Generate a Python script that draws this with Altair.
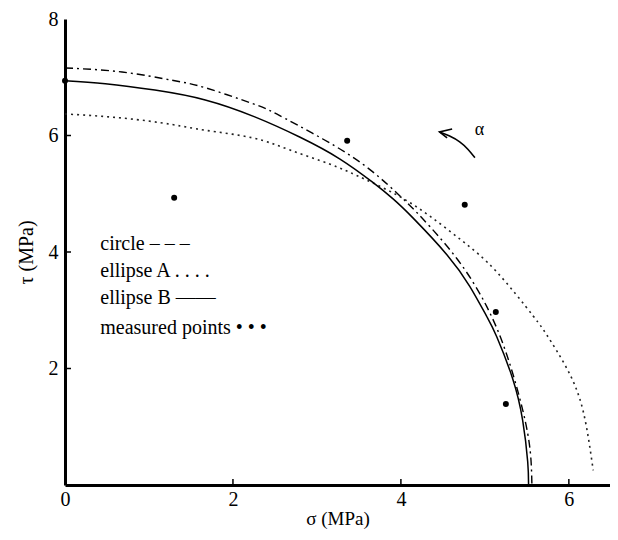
import altair as alt
import pandas as pd

# ---- data ----
circle_x = [0.00, 0.68, 1.27, 1.67, 2.23, 2.52, 3.07, 3.60, 4.02, 4.26, 4.67, 5.02, 5.26, 5.45, 5.54, 5.56]
circle_y = [7.16, 7.09, 6.95, 6.82, 6.55, 6.37, 5.94, 5.45, 4.92, 4.57, 3.88, 3.07, 2.24, 1.29, 0.58, 0.00]

ellA_x = [0.00, 0.68, 1.27, 1.67, 2.23, 2.68, 3.15, 3.48, 3.95, 4.35, 4.74, 5.14, 5.57, 5.74, 5.98, 6.17, 6.29]
ellA_y = [6.37, 6.30, 6.19, 6.09, 5.96, 5.75, 5.51, 5.31, 4.98, 4.61, 4.18, 3.66, 2.91, 2.57, 1.99, 1.27, 0.25]

ellB_x = [0.00, 0.48, 1.07, 1.67, 2.26, 2.80, 3.27, 3.67, 3.90, 4.14, 4.55, 4.82, 5.02, 5.14, 5.33, 5.45, 5.51, 5.52]
ellB_y = [6.94, 6.89, 6.78, 6.61, 6.32, 5.97, 5.60, 5.19, 4.92, 4.59, 3.95, 3.41, 2.90, 2.55, 1.83, 1.11, 0.40, 0.00]

meas_x = [0.00, 1.30, 3.36, 4.76, 5.13, 5.25]
meas_y = [6.94, 4.93, 5.91, 4.81, 2.97, 1.39]

x_ticks = [0, 2, 4, 6]
y_ticks = [2, 4, 6, 8]
x_inner_ticks = [2, 4, 6]
y_inner_ticks = [2, 4, 6]

legend_labels = ["circle – – –", "ellipse A . . . .", "ellipse B ——", "measured points • • •"]
legend_x = [0.42, 0.42, 0.42, 0.42]
legend_y = [4.13, 3.68, 3.21, 2.69]

arrow_x = [4.88, 4.80, 4.70, 4.58, 4.46]
arrow_y = [5.62, 5.76, 5.89, 5.99, 6.06]
barb_x = [4.61, 4.46, 4.55]
barb_y = [6.11, 6.06, 5.96]
alpha_label = ["α"]
alpha_x = [4.88]
alpha_y = [6.09]

W, H = 545, 466
FONT = "Liberation Serif"

xs = alt.Scale(domain=[0, 6.49], nice=False, zero=False)
ys = alt.Scale(domain=[0, 8], nice=False, zero=False)

def curve_df(xv, yv):
    return pd.DataFrame({"x": xv, "y": yv, "o": list(range(len(xv)))})

xenc = alt.X("x:Q", scale=xs, axis=alt.Axis(values=x_ticks, title="σ (MPa)", ticks=False, format="d",
                                            labelFlush=False, labelPadding=4, titlePadding=0,
                                            titleFontSize=19))
yenc = alt.Y("y:Q", scale=ys, axis=alt.Axis(values=y_ticks, title="τ (MPa)", ticks=False, format="d",
                                            labelFlush=False, labelPadding=7, titlePadding=12))

circle = alt.Chart(curve_df(circle_x, circle_y)).mark_line(
    color="black", strokeWidth=1.4, strokeDash=[8, 4, 2, 4], interpolate="natural"
).encode(x=xenc, y=yenc, order="o:Q")

ellA = alt.Chart(curve_df(ellA_x, ellA_y)).mark_line(
    color="#222", strokeWidth=1.6, strokeDash=[2, 4], interpolate="natural"
).encode(x="x:Q", y="y:Q", order="o:Q")

ellB = alt.Chart(curve_df(ellB_x, ellB_y)).mark_line(
    color="black", strokeWidth=1.5, interpolate="natural"
).encode(x="x:Q", y="y:Q", order="o:Q")

pts = alt.Chart(pd.DataFrame({"x": meas_x, "y": meas_y})).mark_point(
    filled=True, color="black", size=36, opacity=1
).encode(x="x:Q", y="y:Q")

xt = alt.Chart(pd.DataFrame({"x": x_inner_ticks})).mark_rule(color="black", strokeWidth=1.5).encode(
    x="x:Q", y=alt.value(H), y2=alt.value(H - 6))
yt = alt.Chart(pd.DataFrame({"y": y_inner_ticks})).mark_rule(color="black", strokeWidth=1.5).encode(
    y="y:Q", x=alt.value(0), x2=alt.value(6))

legend = alt.Chart(pd.DataFrame({"x": legend_x, "y": legend_y, "t": legend_labels})).mark_text(
    align="left", baseline="middle", font=FONT, fontSize=20, color="black"
).encode(x="x:Q", y="y:Q", text="t:N")

arrow = alt.Chart(curve_df(arrow_x, arrow_y)).mark_line(
    color="black", strokeWidth=1.6, interpolate="natural"
).encode(x="x:Q", y="y:Q", order="o:Q")
barb = alt.Chart(curve_df(barb_x, barb_y)).mark_line(
    color="black", strokeWidth=1.6
).encode(x="x:Q", y="y:Q", order="o:Q")
alpha = alt.Chart(pd.DataFrame({"x": alpha_x, "y": alpha_y, "t": alpha_label})).mark_text(
    align="left", baseline="middle", font=FONT, fontSize=18, color="black"
).encode(x="x:Q", y="y:Q", text="t:N")

chart = alt.layer(circle, ellA, ellB, pts, xt, yt, legend, arrow, barb, alpha).properties(
    width=W, height=H,
    autosize=alt.AutoSizeParams(type="none"),
    padding={"left": 57, "top": 11, "right": 0, "bottom": 47},
).configure_view(stroke=None).configure_axis(
    grid=False, domainColor="black", domainWidth=3,
    labelFont=FONT, labelFontSize=20, labelColor="black",
    titleFont=FONT, titleFontSize=20, titleFontWeight="normal", titleColor="black",
)

chart.save("out.html", embed_options={"renderer": "svg", "actions": False})
